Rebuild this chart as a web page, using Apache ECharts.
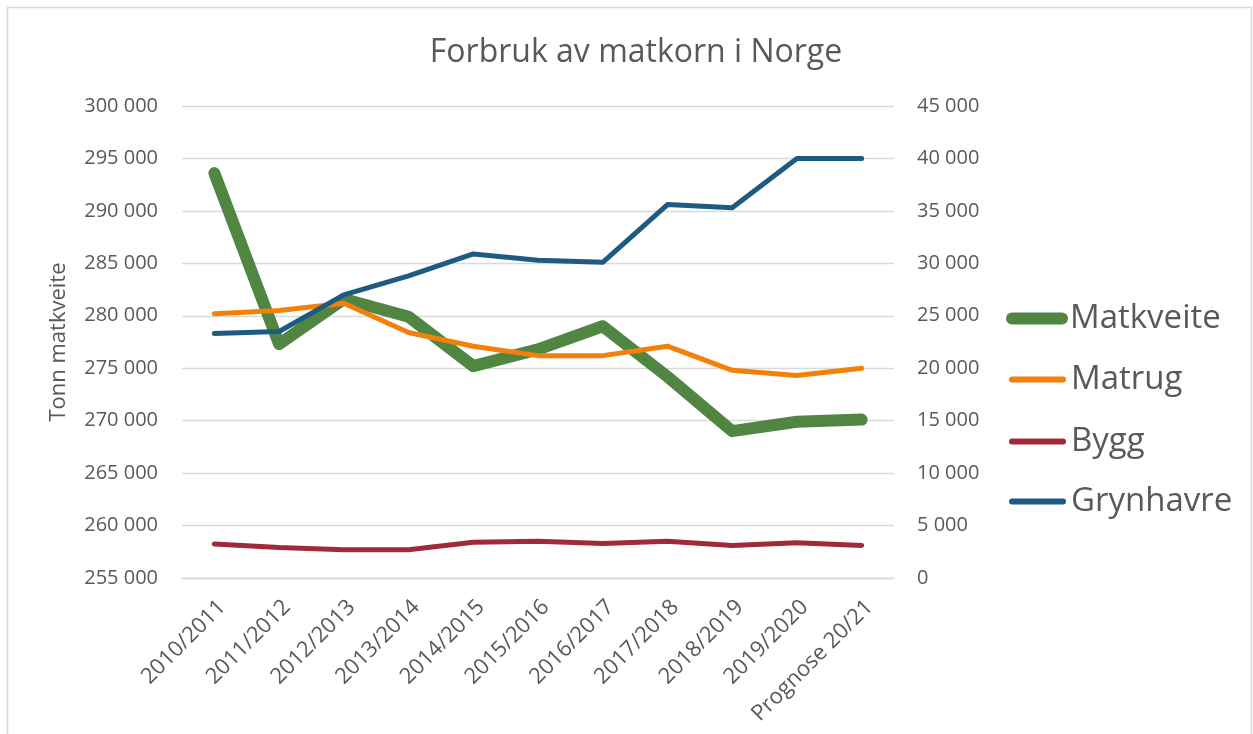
<!DOCTYPE html>
<html>
<head>
<meta charset="utf-8">
<script src="https://cdn.jsdelivr.net/npm/echarts@6/dist/echarts.min.js"></script>
<style>
html,body{margin:0;padding:0;background:#fff;}
#chart{width:1253px;height:734px;}
</style>
</head>
<body>
<div id="chart"></div>
<script>
const categories = ['2010/2011','2011/2012','2012/2013','2013/2014','2014/2015','2015/2016','2016/2017','2017/2018','2018/2019','2019/2020','Prognose 20/21'];
const matkveite = [293600, 277300, 281600, 279900, 275200, 276800, 279000, 274200, 269000, 269900, 270100];
const matrug    = [25200, 25500, 26200, 23400, 22100, 21200, 21200, 22100, 19800, 19300, 20000];
const bygg      = [3250, 2900, 2700, 2700, 3400, 3500, 3300, 3500, 3100, 3350, 3100];
const grynhavre = [23300, 23500, 27000, 28800, 30900, 30300, 30100, 35600, 35300, 40000, 40000];
const seriesNames = ['Matkveite', 'Matrug', 'Bygg', 'Grynhavre'];
const titleText = 'Forbruk av matkorn i Norge';
const leftAxisName = 'Tonn matkveite';

const FONT = 'Open Sans';
const TXT = '#595959';
const fmt = v => String(v).replace(/\B(?=(\d{3})+(?!\d))/g, ' ');

const colors = ['#508642', '#F2800A', '#A02A3A', '#1F5A80'];
const widths = [12, 5, 5, 5];
const datas = [matkveite, matrug, bygg, grynhavre];
const axisIdx = [0, 1, 1, 1];

const chart = echarts.init(document.getElementById('chart'), null, {renderer: 'canvas'});

const capsule = (w, h) => {
  const r = h / 2;
  return 'path://M' + r + ',0H' + (w - r) + 'A' + r + ',' + r + ',0,0,1,' + (w - r) + ',' + h + 'H' + r + 'A' + r + ',' + r + ',0,0,1,' + r + ',0Z';
};
const legendCenters = [318, 379, 441, 501];
const legends = seriesNames.map((n, i) => {
  const w = i === 0 ? 62 : 57;
  const h = i === 0 ? 12 : 6;
  return {
    data: [n],
    left: i === 0 ? 1006 : 1009,
    top: legendCenters[i] - 16,
    padding: 0,
    itemWidth: w,
    itemHeight: h,
    icon: capsule(w, h),
    itemStyle: {borderWidth: 0},
    textStyle: {fontFamily: FONT, fontSize: 33, color: TXT, padding: [0, 0, 0, i === 0 ? -3 : 0]},
    selectedMode: false
  };
});

const option = {
  animation: false,
  backgroundColor: '#fff',
  title: {
    text: titleText,
    left: 631,
    textAlign: 'center',
    top: 32,
    textStyle: {fontFamily: FONT, fontSize: 32, fontWeight: 'normal', color: TXT}
  },
  legend: legends,
  grid: {left: 182, right: 359, top: 106, bottom: 156, containLabel: false},
  xAxis: {
    type: 'category',
    data: categories,
    boundaryGap: true,
    axisLine: {show: true, lineStyle: {color: '#D9D9D9', width: 1.3}},
    axisTick: {show: false},
    axisLabel: {
      rotate: 45, interval: 0, margin: 18,
      verticalAlign: 'top',
      fontFamily: FONT, fontSize: 22, color: TXT
    }
  },
  yAxis: [
    {
      type: 'value', min: 255000, max: 300000, interval: 5000,
      name: leftAxisName, nameLocation: 'middle', nameRotate: 90, nameGap: 112,
      nameTextStyle: {fontFamily: FONT, fontSize: 22, color: TXT},
      axisLine: {show: false}, axisTick: {show: false},
      axisLabel: {formatter: fmt, margin: 24, fontFamily: FONT, fontSize: 20, color: TXT},
      splitLine: {show: true, lineStyle: {color: '#D9D9D9', width: 1.3}}
    },
    {
      type: 'value', min: 0, max: 45000, interval: 5000, position: 'right',
      axisLine: {show: false}, axisTick: {show: false},
      axisLabel: {formatter: fmt, margin: 23, fontFamily: FONT, fontSize: 20, color: TXT},
      splitLine: {show: false}
    }
  ],
  series: seriesNames.map((n, i) => ({
    name: n,
    type: 'line',
    yAxisIndex: axisIdx[i],
    data: datas[i],
    symbol: 'none',
    showSymbol: false,
    color: colors[i],
    lineStyle: {color: colors[i], width: widths[i], cap: 'round', join: 'round'},
    z: i === 0 ? 2 : 3
  })),
  graphic: [{
    type: 'rect',
    shape: {x: 7.5, y: 7.5, width: 1244, height: 740},
    style: {fill: 'none', stroke: '#D9D9D9', lineWidth: 1.5},
    silent: true,
    z: -1
  }]
};
chart.setOption(option);
</script>
</body>
</html>
